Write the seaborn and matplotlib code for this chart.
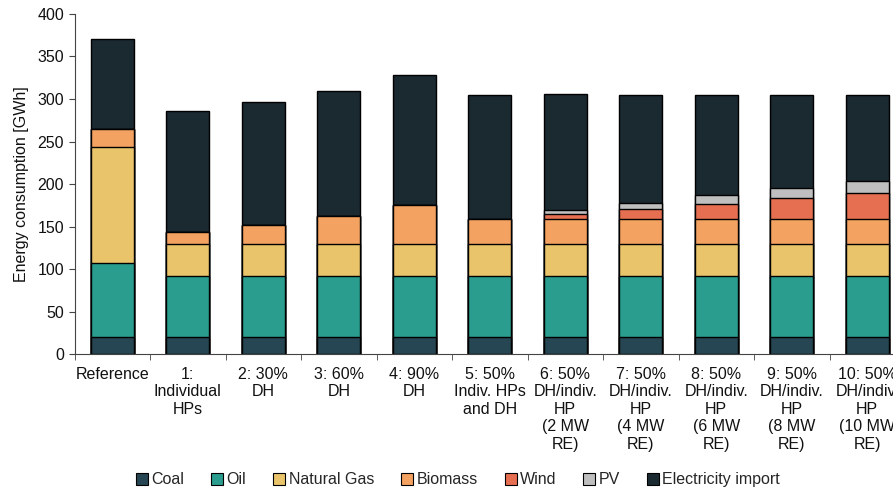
import numpy as np
import pandas as pd
import matplotlib
matplotlib.use("Agg")
import matplotlib.pyplot as plt
import seaborn as sns
from matplotlib.patches import Patch

scenarios = ["Reference", "1:\nIndividual\nHPs", "2: 30%\nDH", "3: 60%\nDH", "4: 90%\nDH",
             "5: 50%\nIndiv. HPs\nand DH", "6: 50%\nDH/indiv.\nHP\n(2 MW\nRE)",
             "7: 50%\nDH/indiv.\nHP\n(4 MW\nRE)", "8: 50%\nDH/indiv.\nHP\n(6 MW\nRE)",
             "9: 50%\nDH/indiv.\nHP\n(8 MW\nRE)", "10: 50%\nDH/indiv.\nHP\n(10 MW\nRE)"]

coal = [20, 20, 20, 20, 20, 20, 20, 20, 20, 20, 20]
oil = [87, 72, 72, 72, 72, 72, 72, 72, 72, 72, 72]
natural_gas = [137, 38, 38, 38, 38, 38, 38, 38, 38, 38, 38]
biomass = [21, 14, 22, 32, 45, 29, 29, 29, 29, 29, 29]
wind = [0, 0, 0, 0, 0, 0, 6, 12, 18, 24, 30]
pv = [0, 0, 0, 0, 0, 0, 4, 7, 10, 12, 14.5]
electricity_import = [106, 142, 145, 147, 153, 146, 136.5, 127, 118, 110, 101.5]

names = ["Coal", "Oil", "Natural Gas", "Biomass", "Wind", "PV", "Electricity import"]
colors = ["#264653", "#2a9d8f", "#e9c46a", "#f4a261", "#e76f51", "#bfbfbf", "#1b2a31"]

df = pd.DataFrame({"Scenario": scenarios, "Coal": coal, "Oil": oil, "Natural Gas": natural_gas,
                   "Biomass": biomass, "Wind": wind, "PV": pv,
                   "Electricity import": electricity_import})
cum = df[names].cumsum(axis=1)
cum["Scenario"] = df["Scenario"]

sns.set_style("ticks")
plt.rcParams["font.family"] = ["Liberation Sans", "DejaVu Sans"]

fig = plt.figure(figsize=(8.93, 4.91), dpi=100)
ax = fig.add_axes([0.0835, 0.279, 0.93, 0.6925])

# draw cumulative totals from the top layer down so they stack
for name, col in reversed(list(zip(names, colors))):
    sns.barplot(data=cum, x="Scenario", y=name, order=scenarios, color=col,
                edgecolor="black", linewidth=1.0, width=0.57, ax=ax, saturation=1)

ax.set_xlim(-0.5, 10.5)
ax.set_ylim(0, 400)
ax.set_yticks(np.arange(0, 401, 50))
ax.set_ylabel("Energy consumption [GWh]", fontsize=11.5, color="#111111", labelpad=6)
ax.set_xlabel("")
ax.tick_params(axis="y", labelsize=11.5, colors="#444444", labelcolor="#111111", length=4)
ax.tick_params(axis="x", which="major", length=0, labelsize=11.5, labelcolor="#111111", pad=9)
ax.set_xticks(np.arange(-0.5, 10.6, 1), minor=True)
ax.tick_params(axis="x", which="minor", length=4, color="#444444")
for lab in ax.get_xticklabels():
    lab.set_verticalalignment("top")
    lab.set_linespacing(1.22)
sns.despine(ax=ax)
ax.spines["left"].set_color("#444444")
ax.spines["bottom"].set_color("#444444")

handles = [Patch(facecolor=c, edgecolor="black", linewidth=0.8) for c in colors]
fig.legend(handles, names, loc="lower center", bbox_to_anchor=(0.513, -0.022), ncol=7,
           frameon=False, fontsize=11.5, handlelength=0.75, handleheight=0.75,
           handletextpad=0.2, columnspacing=1.7)

fig.savefig("out.png", dpi=100)
